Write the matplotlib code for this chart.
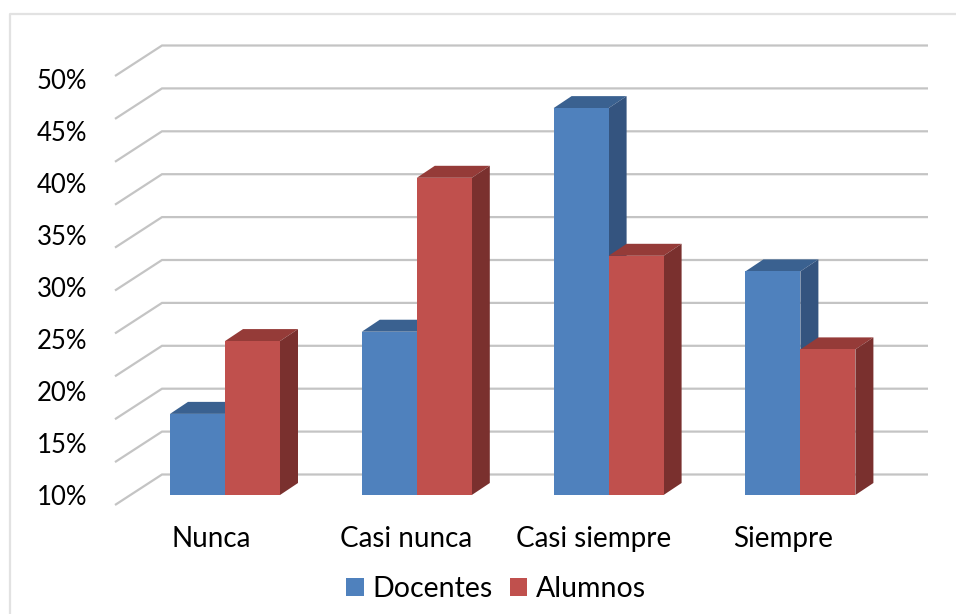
import numpy as np
import matplotlib
matplotlib.use("Agg")
import matplotlib.pyplot as plt
from matplotlib.lines import Line2D
from matplotlib.patches import Polygon, Patch
from matplotlib.transforms import ScaledTranslation

categories = ["Nunca", "Casi nunca", "Casi siempre", "Siempre"]
docentes = [17.8, 25.7, 47.2, 31.5]
alumnos = [24.8, 40.5, 33.0, 24.0]
y_ticks = [10, 15, 20, 25, 30, 35, 40, 45, 50]
y_labels = ["10%", "15%", "20%", "25%", "30%", "35%", "40%", "45%", "50%"]

W, H = 956, 614
plt.rcParams["font.family"] = ["Lato", "DejaVu Sans"]
fig = plt.figure(figsize=(W / 100, H / 100), dpi=100, facecolor="white")

# axes box in pixels (from top-left)
L, R, T, B = 115, 928, 46, 505
ax = fig.add_axes([L / W, 1 - B / H, (R - L) / W, (B - T) / H])
PX_X = 191.8     # px per category
PX_Y = 10.4      # px per percentage point
ax.set_xlim((L - 225) / PX_X, (R - 225) / PX_X)
ax.set_ylim(10 - (B - 495) / PX_Y, 10 + (495 - T) / PX_Y)
ax.patch.set_visible(False)
for s in ax.spines.values():
    s.set_visible(False)

# frame
border = Line2D([10 / W, 10 / W, 1], [0, 1 - 14 / H, 1 - 14 / H], transform=fig.transFigure,
                color="#E2E2E2", lw=1.6)
fig.add_artist(border)

# gridlines: floor/side wall and back wall
n_grid = 11
front = np.linspace(505, 76, n_grid)
xl, xb, xr = ax.get_xlim()[0], (162 - 225) / PX_X, ax.get_xlim()[1]
for f in front:
    yf = 10 + (495 - f) / PX_Y
    yb = yf + 30.5 / PX_Y
    ax.plot([xl, xb, xr], [yf, yb, yb], color="#C4C4C4", lw=1.6, zorder=1,
            clip_on=False, solid_joinstyle="miter", solid_capstyle="butt")

# bars
BW = 55 / PX_X
DX, DY = 18 / PX_X, 12 / PX_Y
BASE = 10


def bar3d(x0, v, front_c, top_c, side_c, z):
    x1 = x0 + BW
    ax.add_patch(Polygon([(x0, v), (x0 + DX, v + DY), (x1 + DX, v + DY), (x1, v)],
                         closed=True, fc=top_c, ec="none", zorder=z))
    ax.add_patch(Polygon([(x1, BASE), (x1 + DX, BASE + DY), (x1 + DX, v + DY), (x1, v)],
                         closed=True, fc=side_c, ec="none", zorder=z))
    ax.bar(x0, v - BASE, BW, bottom=BASE, align="edge", color=front_c, zorder=z + 0.5)


for i, (d, a) in enumerate(zip(docentes, alumnos)):
    bar3d(i - BW, d, "#4F81BD", "#3A6190", "#34547F", 3)
    bar3d(i, a, "#C0504D", "#953B38", "#7A302E", 4)

# ticks
ax.set_yticks(y_ticks)
ax.set_yticklabels(y_labels, fontsize=18.5, color="black")
ax.set_xticks(range(len(categories)))
ax.set_xticklabels(categories, fontsize=20, color="black")
ax.tick_params(axis="y", length=0, pad=20)
ax.tick_params(axis="x", length=0, pad=15)
shifts = [-14, -11, -15, -17]
for lab, dx in zip(ax.get_xticklabels(), shifts):
    lab.set_transform(lab.get_transform() + ScaledTranslation(dx / 100, 0, fig.dpi_scale_trans))

# legend
handles = [Patch(fc="#4F81BD", ec="none", label="Docentes"),
           Patch(fc="#C0504D", ec="none", label="Alumnos")]
fig.legend(handles=handles, loc="center", bbox_to_anchor=(496 / W, 1 - 589 / H), ncol=2,
           frameon=False, fontsize=20.5, handlelength=0.62, handleheight=0.62,
           handletextpad=0.3, columnspacing=0.6, borderpad=0)

fig.savefig("out.png", dpi=100, facecolor="white")
